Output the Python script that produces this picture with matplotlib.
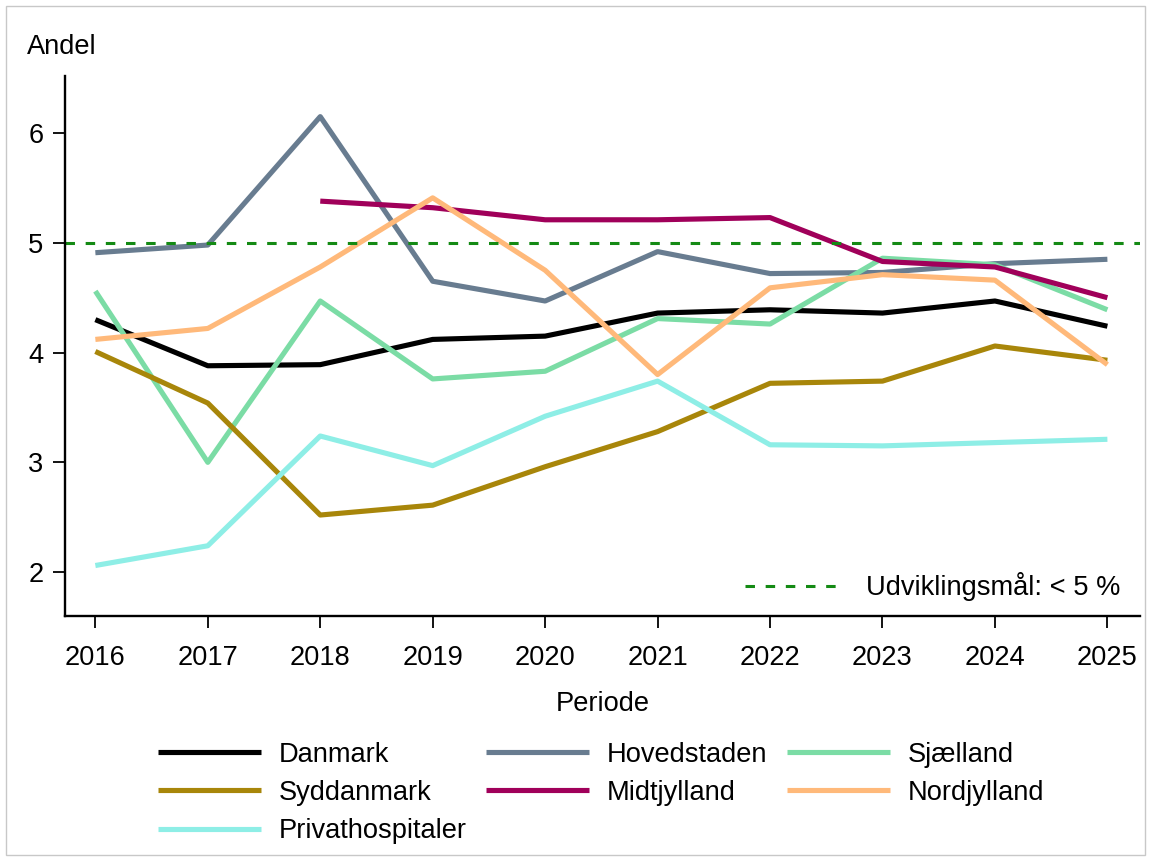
import matplotlib.pyplot as plt
from matplotlib.patches import Rectangle

plt.rcParams['font.family'] = ['Liberation Sans', 'DejaVu Sans']

years = [2016, 2017, 2018, 2019, 2020, 2021, 2022, 2023, 2024, 2025]

danmark = [4.30, 3.88, 3.89, 4.12, 4.15, 4.36, 4.39, 4.36, 4.47, 4.24]
hovedstaden = [4.91, 4.98, 6.15, 4.65, 4.47, 4.92, 4.72, 4.73, 4.81, 4.85]
sjaelland = [4.56, 3.00, 4.47, 3.76, 3.83, 4.31, 4.26, 4.86, 4.80, 4.39]
syddanmark = [4.01, 3.54, 2.52, 2.61, 2.96, 3.28, 3.72, 3.74, 4.06, 3.93]
midt_years = [2018, 2019, 2020, 2021, 2022, 2023, 2024, 2025]
midtjylland = [5.38, 5.32, 5.21, 5.21, 5.23, 4.83, 4.78, 4.50]
nordjylland = [4.12, 4.22, 4.78, 5.41, 4.75, 3.80, 4.59, 4.71, 4.66, 3.89]
privat = [2.06, 2.24, 3.24, 2.97, 3.42, 3.74, 3.16, 3.15, 3.18, 3.21]

goal = 5
goal_label = "Udviklingsmål: < 5 %"

series = [
    ("Danmark", years, danmark, "#000000"),
    ("Hovedstaden", years, hovedstaden, "#687c90"),
    ("Sjælland", years, sjaelland, "#7bdca5"),
    ("Syddanmark", years, syddanmark, "#a8860a"),
    ("Midtjylland", midt_years, midtjylland, "#a0005a"),
    ("Nordjylland", years, nordjylland, "#ffb97a"),
    ("Privathospitaler", years, privat, "#8eeee6"),
]

fs = 19.6

fig = plt.figure(figsize=(11.51, 8.61), dpi=100)
ax = fig.add_axes([65 / 1151, 1 - 616 / 861, 1075 / 1151, 540 / 861])

handles = {}
for name, xs, ys, col in series:
    h, = ax.plot(xs, ys, color=col, lw=3.7, label=name, solid_capstyle='butt')
    handles[name] = h

goal_line = ax.axhline(goal, color="#148a14", lw=2.2, linestyle=(0, (3.1, 3.5)))

ax.set_xlim(2015.73, 2025.29)
ax.set_ylim(1.6, 6.52)
ax.set_xticks(years)
ax.set_yticks([2, 3, 4, 5, 6])
ax.tick_params(labelsize=fs, length=8.6, width=1.3, pad=7)
ax.tick_params(axis='x', pad=12)
for side in ["top", "right"]:
    ax.spines[side].set_visible(False)
for side in ["left", "bottom"]:
    ax.spines[side].set_linewidth(1.7)

ax.set_xlabel("Periode", fontsize=fs, labelpad=15)
fig.text(27 / 1151, 1 - 47 / 861, "Andel", fontsize=fs, ha='left', va='center')

ax.legend([goal_line], [goal_label], loc='center right', bbox_to_anchor=(0.982, 0.054),
          frameon=False, fontsize=fs, handlelength=3.5, handletextpad=0.95,
          borderpad=0, borderaxespad=0)

# legend is filled column by column, so order it to read row by row
order = ["Danmark", "Syddanmark", "Privathospitaler", "Hovedstaden",
         "Midtjylland", "Sjælland", "Nordjylland"]
fig.legend([handles[n] for n in order], order, loc='center',
           bbox_to_anchor=(601 / 1151, 1 - 793 / 861), ncol=3, frameon=False,
           fontsize=fs, handlelength=3.8, handletextpad=0.65, columnspacing=0.7,
           labelspacing=0.45, borderpad=0)

fig.patches.append(Rectangle((6 / 1151, 6 / 861), 1139 / 1151, 849 / 861,
                             transform=fig.transFigure, fill=False,
                             edgecolor="#c8c8c8", lw=1))

fig.savefig("out.png", dpi=100)
